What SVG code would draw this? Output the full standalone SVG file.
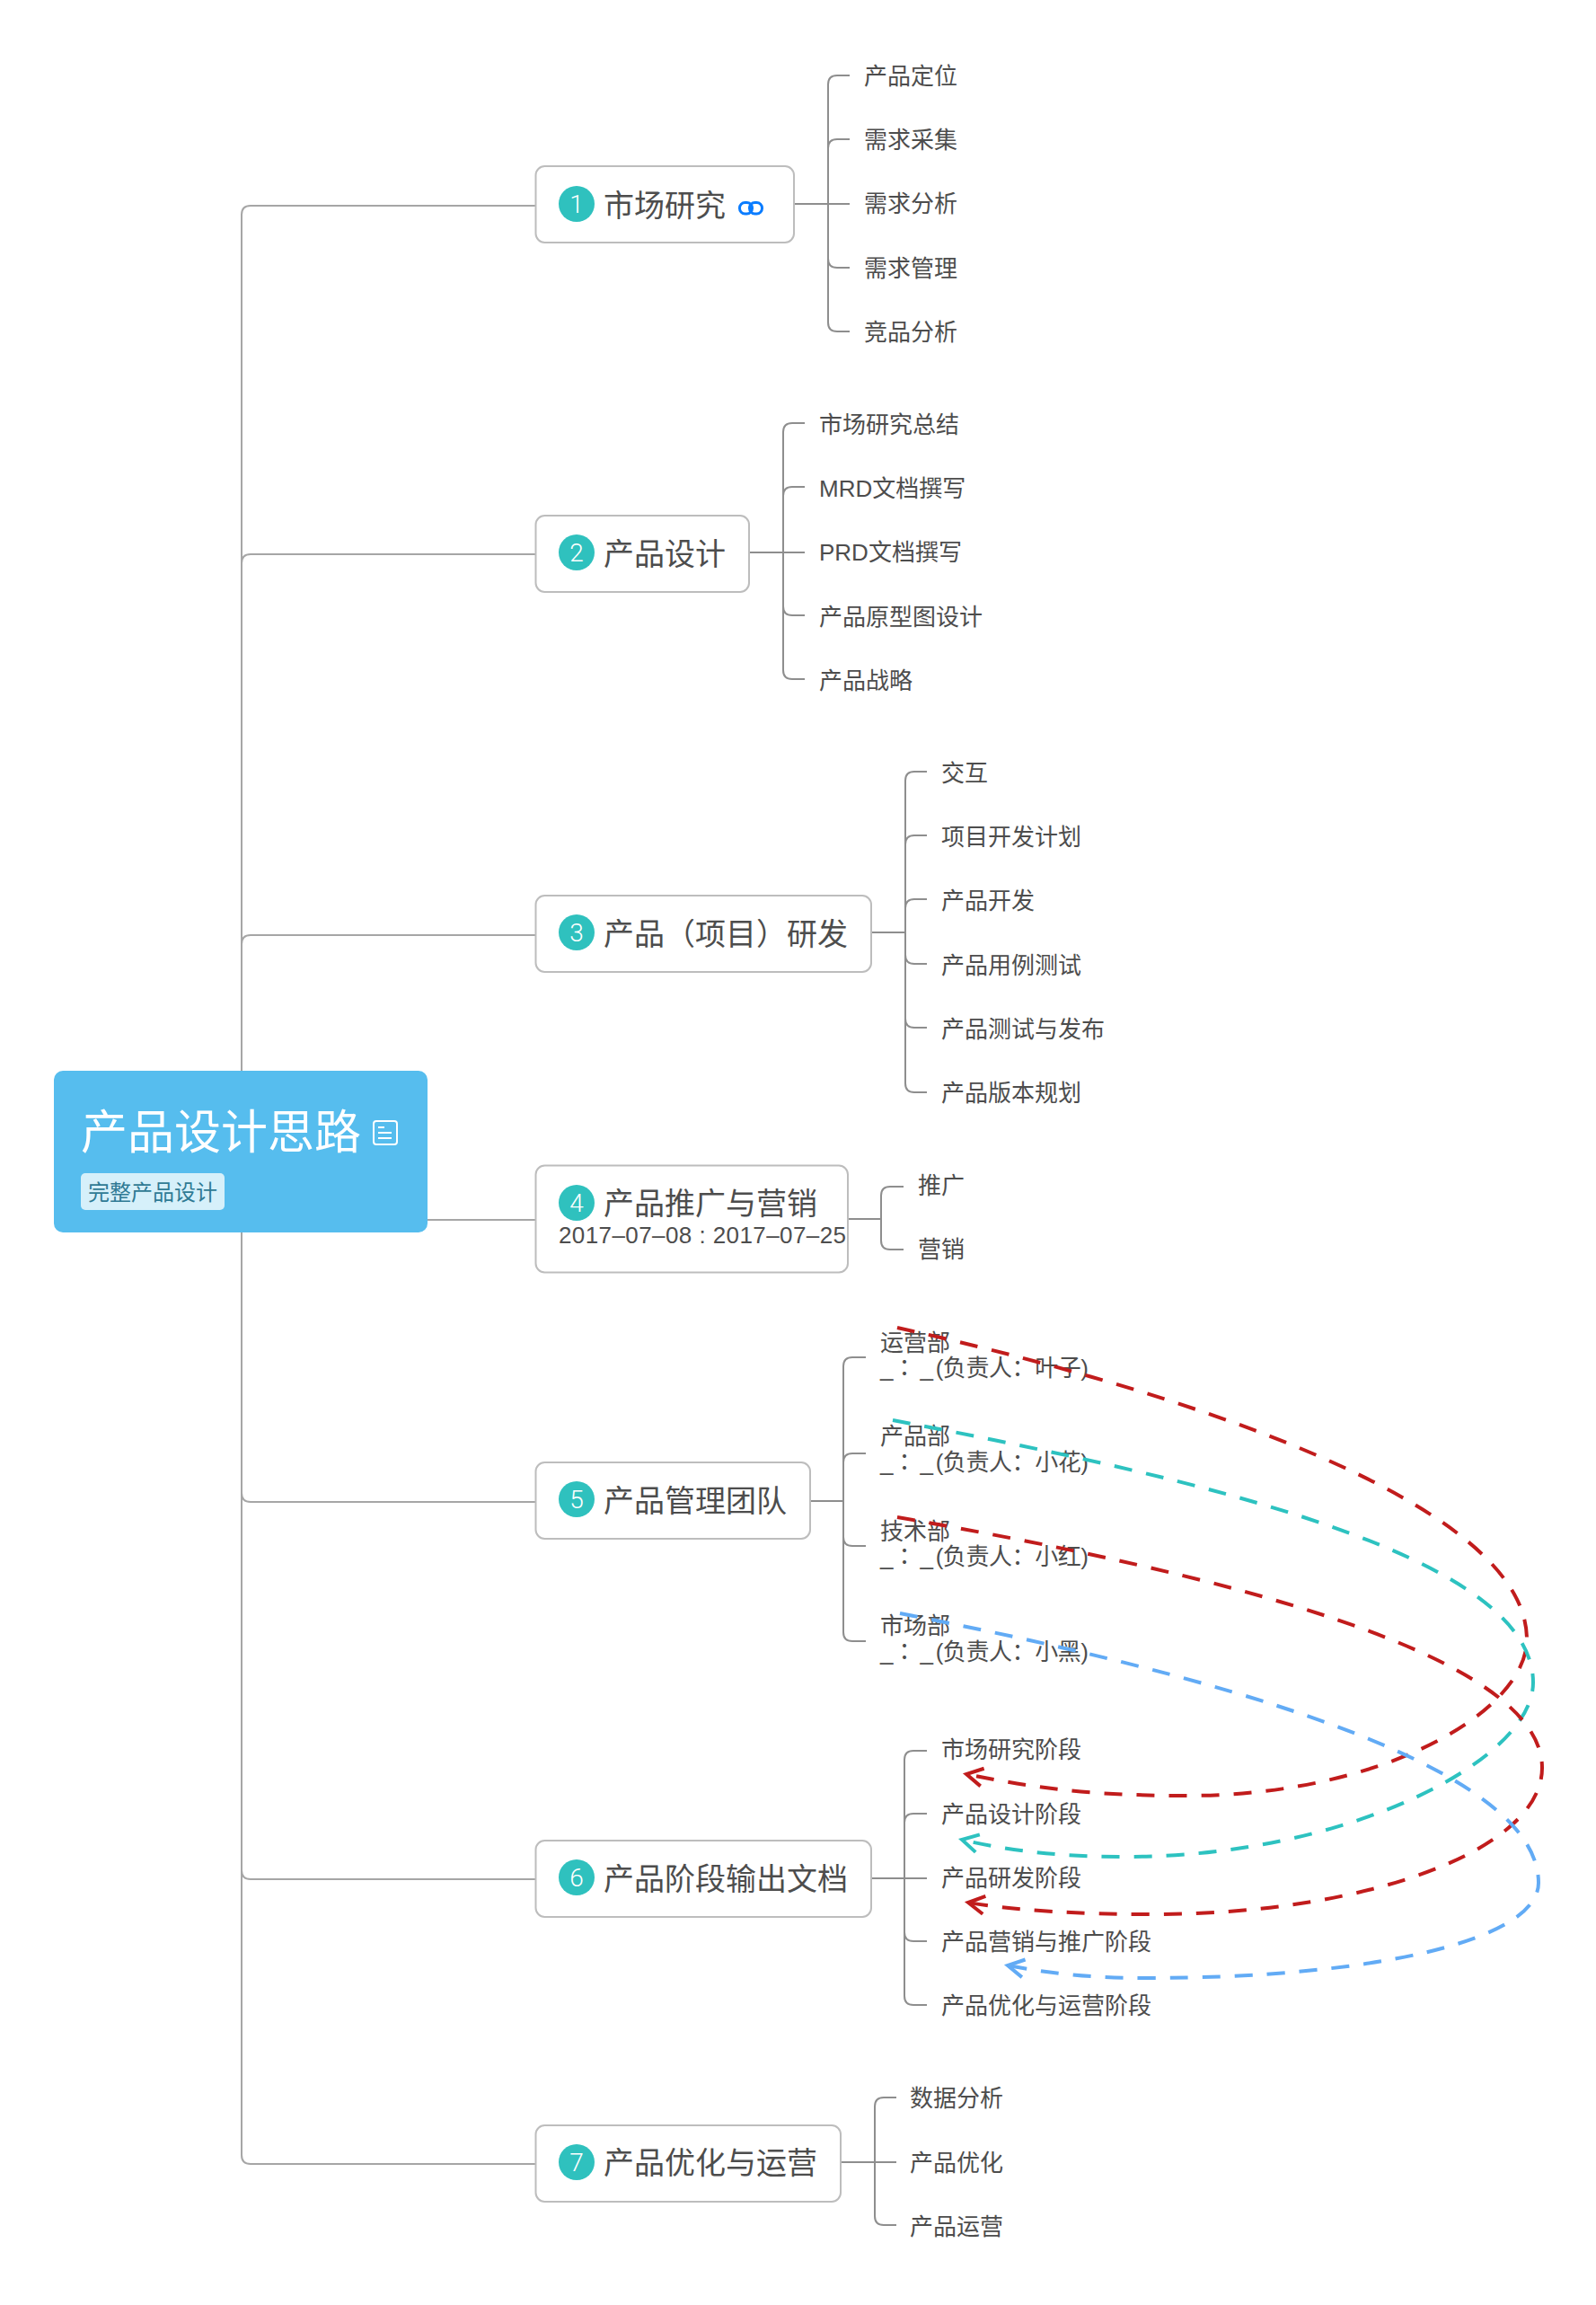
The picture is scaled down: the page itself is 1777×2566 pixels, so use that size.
<svg xmlns="http://www.w3.org/2000/svg" width="1777" height="2566" viewBox="0 0 1777 2566">
<style>
text{font-family:"Liberation Sans","Noto Sans CJK SC",sans-serif;fill:#4d4d4d}
.box{fill:#fff;stroke:#bdbdbd;stroke-width:2}
.badge{fill:#2fc1be}
.num{font-family:Roboto,sans-serif;font-weight:300;font-size:28px;fill:#fff;text-anchor:middle}
.t{font-size:34px}
.c{font-size:26px}
.col{font-family:"Noto Sans CJK TC",sans-serif}
.main{fill:none;stroke:#a6a6a6;stroke-width:2}
.sub{fill:none;stroke:#8e8e8e;stroke-width:2}
.rel{fill:none;stroke-width:4;stroke-dasharray:20 16}
.red{stroke:#c11c1c;marker-end:url(#aRed)}
.teal{stroke:#2dc2c0;marker-end:url(#aTeal)}
.blue{stroke:#62abf5;marker-end:url(#aBlue)}
</style>
<defs>
<marker id="aRed" markerUnits="userSpaceOnUse" viewBox="-24 -14 28 28" markerWidth="28" markerHeight="28" refX="0" refY="0" orient="auto"><path d="M-18,-10 L0,0 L-18,10" fill="none" stroke="#c11c1c" stroke-width="4"/></marker>
<marker id="aTeal" markerUnits="userSpaceOnUse" viewBox="-24 -14 28 28" markerWidth="28" markerHeight="28" refX="0" refY="0" orient="auto"><path d="M-18,-10 L0,0 L-18,10" fill="none" stroke="#2dc2c0" stroke-width="4"/></marker>
<marker id="aBlue" markerUnits="userSpaceOnUse" viewBox="-24 -14 28 28" markerWidth="28" markerHeight="28" refX="0" refY="0" orient="auto"><path d="M-18,-10 L0,0 L-18,10" fill="none" stroke="#62abf5" stroke-width="4"/></marker>
</defs>
<rect width="1777" height="2566" fill="#fff"/>
<g id="connectors">
<path class="main" d="M269,1192 V239 Q269,229 279,229 H596"/>
<path class="main" d="M269,627 Q269,617 279,617 H596"/>
<path class="main" d="M269,1051 Q269,1041 279,1041 H596"/>
<path class="main" d="M476,1358 H596"/>
<path class="main" d="M269,1372 V2399 Q269,2409 279,2409 H596"/>
<path class="main" d="M269,1662 Q269,1672 279,1672 H596"/>
<path class="main" d="M269,2082 Q269,2092 279,2092 H596"/>
<path class="sub" d="M884,227 H946"/>
<path class="sub" d="M922,227 V94 Q922,84 932,84 H946"/>
<path class="sub" d="M922,165 Q922,155 932,155 H946"/>
<path class="sub" d="M922,227 V359 Q922,369 932,369 H946"/>
<path class="sub" d="M922,288 Q922,298 932,298 H946"/>
<path class="sub" d="M834,615 H896"/>
<path class="sub" d="M872,615 V481 Q872,471 882,471 H896"/>
<path class="sub" d="M872,552 Q872,542 882,542 H896"/>
<path class="sub" d="M872,615 V746 Q872,756 882,756 H896"/>
<path class="sub" d="M872,675 Q872,685 882,685 H896"/>
<path class="sub" d="M970,1038 H1008"/>
<path class="sub" d="M1008,1038 V869 Q1008,859 1018,859 H1032"/>
<path class="sub" d="M1008,940 Q1008,930 1018,930 H1032"/>
<path class="sub" d="M1008,1011 Q1008,1001 1018,1001 H1032"/>
<path class="sub" d="M1008,1038 V1206 Q1008,1216 1018,1216 H1032"/>
<path class="sub" d="M1008,1063 Q1008,1073 1018,1073 H1032"/>
<path class="sub" d="M1008,1134 Q1008,1144 1018,1144 H1032"/>
<path class="sub" d="M944,1357 H981"/>
<path class="sub" d="M981,1357 V1331 Q981,1321 991,1321 H1006"/>
<path class="sub" d="M981,1357 V1381 Q981,1391 991,1391 H1006"/>
<path class="sub" d="M902,1671 H939"/>
<path class="sub" d="M939,1671 V1521 Q939,1511 949,1511 H964"/>
<path class="sub" d="M939,1628 Q939,1618 949,1618 H964"/>
<path class="sub" d="M939,1671 V1817 Q939,1827 949,1827 H964"/>
<path class="sub" d="M939,1711 Q939,1721 949,1721 H964"/>
<path class="sub" d="M970,2091 H1032"/>
<path class="sub" d="M1007,2091 V1959 Q1007,1949 1017,1949 H1032"/>
<path class="sub" d="M1007,2029 Q1007,2019 1017,2019 H1032"/>
<path class="sub" d="M1007,2091 V2222 Q1007,2232 1017,2232 H1032"/>
<path class="sub" d="M1007,2151 Q1007,2161 1017,2161 H1032"/>
<path class="sub" d="M936,2407 H998"/>
<path class="sub" d="M974,2407 V2345 Q974,2335 984,2335 H998"/>
<path class="sub" d="M974,2407 V2467 Q974,2477 984,2477 H998"/>
</g>
<g id="root">
<rect x="60" y="1192" width="416" height="180" rx="10" fill="#56bdee"/>
<text x="90" y="1279" font-size="52" style="fill:#fff">产品设计思路</text>
<g fill="none" stroke="#fff" stroke-width="2">
<rect x="416" y="1248" width="26" height="26" rx="3"/>
<path d="M421,1255 H428 M421,1261 H436 M421,1267 H436"/>
</g>
<rect x="90" y="1306" width="160" height="41" rx="5" fill="#d6f0fa"/>
<text x="98" y="1336" font-size="24" style="fill:#2f7a94">完整产品设计</text>
</g>
<g id="node1">
<rect class="box" x="596.500" y="185" width="287.500" height="85" rx="10"/>
<circle class="badge" cx="642" cy="227" r="20"/><text class="num" x="642" y="237">1</text>
<text class="t" x="672" y="241">市场研究</text>
<g fill="none" stroke="#0a7cff" stroke-width="3">
<rect x="823.500" y="225.500" width="14" height="12.500" rx="6"/>
<rect x="834.500" y="225.500" width="14" height="12.500" rx="6"/>
</g>
</g>
<g id="node1-children">
<text class="c" x="962" y="94">产品定位</text>
<text class="c" x="962" y="165">需求采集</text>
<text class="c" x="962" y="236">需求分析</text>
<text class="c" x="962" y="308">需求管理</text>
<text class="c" x="962" y="379">竞品分析</text>
</g>
<g id="node2">
<rect class="box" x="596.500" y="574" width="237.500" height="85" rx="10"/>
<circle class="badge" cx="642" cy="615" r="20"/><text class="num" x="642" y="625">2</text>
<text class="t" x="672" y="629">产品设计</text>
</g>
<g id="node2-children">
<text class="c" x="912" y="482">市场研究总结</text>
<text class="c" x="912" y="553">MRD文档撰写</text>
<text class="c" x="912" y="624">PRD文档撰写</text>
<text class="c" x="912" y="696">产品原型图设计</text>
<text class="c" x="912" y="767">产品战略</text>
</g>
<g id="node3">
<rect class="box" x="596.500" y="997" width="373.500" height="85" rx="10"/>
<circle class="badge" cx="642" cy="1038" r="20"/><text class="num" x="642" y="1048">3</text>
<text class="t" x="672" y="1052">产品（项目）研发</text>
</g>
<g id="node3-children">
<text class="c" x="1048" y="870">交互</text>
<text class="c" x="1048" y="941">项目开发计划</text>
<text class="c" x="1048" y="1012">产品开发</text>
<text class="c" x="1048" y="1084">产品用例测试</text>
<text class="c" x="1048" y="1155">产品测试与发布</text>
<text class="c" x="1048" y="1226">产品版本规划</text>
</g>
<g id="node4">
<rect class="box" x="596.500" y="1297.500" width="347.500" height="119" rx="10"/>
<circle class="badge" cx="642" cy="1339" r="20"/><text class="num" x="642" y="1349">4</text>
<text class="t" x="672" y="1352">产品推广与营销</text>
<text class="c" x="622" y="1384" textLength="320">2017–07–08 : 2017–07–25</text>
</g>
<g id="node4-children">
<text class="c" x="1022" y="1329">推广</text>
<text class="c" x="1022" y="1400">营销</text>
</g>
<g id="node5">
<rect class="box" x="596.500" y="1628" width="305.500" height="85" rx="10"/>
<circle class="badge" cx="642" cy="1669" r="20"/><text class="num" x="642" y="1679">5</text>
<text class="t" x="672" y="1683">产品管理团队</text>
</g>
<g id="node5-children">
<text class="c" x="980" y="1504">运营部</text>
<text class="c" x="980" y="1532" textLength="232">_<tspan class="col">：</tspan><tspan dx="5">_</tspan><tspan dx="3">(</tspan>负责人：叶子)</text>
<text class="c" x="980" y="1608">产品部</text>
<text class="c" x="980" y="1637" textLength="232">_<tspan class="col">：</tspan><tspan dx="5">_</tspan><tspan dx="3">(</tspan>负责人：小花)</text>
<text class="c" x="980" y="1714">技术部</text>
<text class="c" x="980" y="1742" textLength="232">_<tspan class="col">：</tspan><tspan dx="5">_</tspan><tspan dx="3">(</tspan>负责人：小红)</text>
<text class="c" x="980" y="1819">市场部</text>
<text class="c" x="980" y="1848" textLength="232">_<tspan class="col">：</tspan><tspan dx="5">_</tspan><tspan dx="3">(</tspan>负责人：小黑)</text>
</g>
<g id="node6">
<rect class="box" x="596.500" y="2049" width="373.500" height="85" rx="10"/>
<circle class="badge" cx="642" cy="2090" r="20"/><text class="num" x="642" y="2100">6</text>
<text class="t" x="672" y="2104">产品阶段输出文档</text>
</g>
<g id="node6-children">
<text class="c" x="1048" y="1957">市场研究阶段</text>
<text class="c" x="1048" y="2029">产品设计阶段</text>
<text class="c" x="1048" y="2100">产品研发阶段</text>
<text class="c" x="1048" y="2171">产品营销与推广阶段</text>
<text class="c" x="1048" y="2242">产品优化与运营阶段</text>
</g>
<g id="node7">
<rect class="box" x="596.500" y="2366" width="339.500" height="85" rx="10"/>
<circle class="badge" cx="642" cy="2407" r="20"/><text class="num" x="642" y="2417">7</text>
<text class="t" x="672" y="2420">产品优化与运营</text>
</g>
<g id="node7-children">
<text class="c" x="1013" y="2345">数据分析</text>
<text class="c" x="1013" y="2417">产品优化</text>
<text class="c" x="1013" y="2488">产品运营</text>
</g>
<g id="relationships">
<path class="rel red" d="M999,1478 C1300,1545 1700,1670 1700,1825 C1700,1905 1540,1999 1322,1999 C1210,1999 1150,1990 1076,1975"/>
<path class="rel teal" d="M994,1581 C1330,1645 1707,1730 1707,1873 C1707,1960 1500,2067 1253,2067 C1190,2067 1130,2062 1071,2048"/>
<path class="rel red" d="M999,1689 C1350,1750 1717,1840 1717,1968 C1717,2060 1520,2131 1285,2131 C1210,2131 1140,2128 1078,2118"/>
<path class="rel blue" d="M1002,1796 C1330,1860 1713,1960 1713,2096 C1713,2160 1530,2202 1274,2202 C1215,2202 1170,2197 1122,2188"/>
</g>
</svg>
